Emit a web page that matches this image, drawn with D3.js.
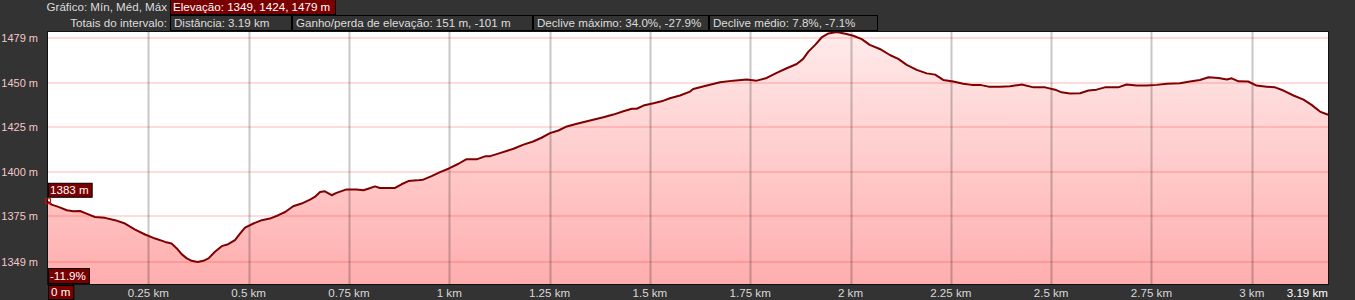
<!DOCTYPE html>
<html>
<head>
<meta charset="utf-8">
<script src="https://cdn.jsdelivr.net/npm/d3@7"></script>
<style>
  html, body { margin: 0; padding: 0; background: #333; }
  svg { display: block; font-family: "Liberation Sans", Arial, sans-serif; }
</style>
</head>
<body>
<div id="profile"></div>
<script>
// ---------------------------- DATA ----------------------------//
const distKm = [0, 0.009, 0.026, 0.047, 0.063, 0.080, 0.096, 0.117, 0.142, 0.167,
  0.192, 0.217, 0.242, 0.267, 0.292, 0.308, 0.321, 0.333, 0.346, 0.358,
  0.373, 0.387, 0.400, 0.416, 0.433, 0.449, 0.466, 0.479, 0.491, 0.512,
  0.533, 0.553, 0.574, 0.591, 0.611, 0.632, 0.653, 0.665, 0.678, 0.690,
  0.707, 0.719, 0.744, 0.769, 0.786, 0.798, 0.815, 0.827, 0.865, 0.881,
  0.898, 0.919, 0.935, 0.956, 0.977, 0.998, 1.023, 1.042, 1.068, 1.089,
  1.102, 1.126, 1.160, 1.185, 1.209, 1.230, 1.251, 1.272, 1.293, 1.318,
  1.351, 1.384, 1.409, 1.434, 1.455, 1.467, 1.484, 1.509, 1.529, 1.550,
  1.575, 1.600, 1.608, 1.642, 1.675, 1.708, 1.741, 1.766, 1.791, 1.816,
  1.841, 1.866, 1.882, 1.895, 1.912, 1.928, 1.945, 1.966, 1.990, 2.007,
  2.028, 2.048, 2.073, 2.098, 2.119, 2.140, 2.165, 2.190, 2.211, 2.231,
  2.256, 2.281, 2.302, 2.323, 2.344, 2.373, 2.398, 2.427, 2.456, 2.485,
  2.510, 2.526, 2.547, 2.572, 2.593, 2.613, 2.634, 2.667, 2.688, 2.713,
  2.738, 2.763, 2.788, 2.821, 2.846, 2.871, 2.892, 2.917, 2.938, 2.950,
  2.967, 2.991, 3.012, 3.037, 3.058, 3.079, 3.104, 3.129, 3.149, 3.170,
  3.190];
const elevM = [1383, 1381.4, 1380.1, 1378.2, 1377.6, 1377.8, 1376.3, 1374.4, 1373.9, 1372.6,
  1370.7, 1367.3, 1364.5, 1362.2, 1360.3, 1359.4, 1356.6, 1353.4, 1351.0, 1349.6,
  1349.0, 1349.6, 1351.0, 1354.7, 1357.9, 1359.0, 1361.3, 1365.1, 1368.4, 1370.7,
  1372.6, 1373.5, 1375.4, 1377.2, 1380.5, 1382.0, 1384.2, 1385.7, 1388.5, 1388.9,
  1386.7, 1388.0, 1390.0, 1390.0, 1389.5, 1390.4, 1391.7, 1390.8, 1390.8, 1392.9,
  1394.7, 1395.1, 1395.5, 1397.5, 1399.8, 1401.7, 1404.5, 1407.0, 1407.0, 1408.7,
  1408.8, 1410.5, 1413.0, 1415.3, 1417.1, 1419.2, 1421.8, 1423.3, 1425.6, 1427.1,
  1429.0, 1430.8, 1432.3, 1434.2, 1435.6, 1435.6, 1437.4, 1438.7, 1439.8, 1441.5,
  1443.1, 1445.3, 1446.8, 1448.7, 1450.6, 1451.5, 1452.1, 1451.5, 1453.0, 1455.9,
  1458.5, 1460.9, 1463.8, 1467.9, 1471.7, 1475.9, 1478.2, 1479.0, 1477.9, 1476.9,
  1475.0, 1471.7, 1469.4, 1466.0, 1463.8, 1460.4, 1457.6, 1455.6, 1454.9, 1451.9,
  1451.0, 1449.7, 1449.1, 1449.1, 1448.1, 1448.1, 1448.3, 1449.3, 1447.7, 1447.7,
  1446.4, 1444.9, 1444.2, 1444.4, 1445.9, 1446.4, 1447.7, 1447.7, 1449.3, 1448.7,
  1448.7, 1449.1, 1449.7, 1450.0, 1451.0, 1451.9, 1453.4, 1453.0, 1452.1, 1452.8,
  1451.1, 1451.0, 1448.7, 1448.1, 1447.7, 1445.9, 1443.1, 1440.8, 1437.8, 1434.0,
  1432.2];

const yTicks = [1349, 1375, 1400, 1425, 1450, 1479];
const xTicks = [0.25, 0.5, 0.75, 1, 1.25, 1.5, 1.75, 2, 2.25, 2.5, 2.75, 3];
const xTickLabels = ["0.25 km", "0.5 km", "0.75 km", "1 km", "1.25 km", "1.5 km",
  "1.75 km", "2 km", "2.25 km", "2.5 km", "2.75 km", "3 km"];
const totalKm = 3.19;

const headerTitle = "Gráfico: Mín, Méd, Máx";
const headerElev = "Elevação: 1349, 1424, 1479 m";
const totalsTitle = "Totais do intervalo:";
const totalsItems = ["Distância: 3.19 km", "Ganho/perda de elevação: 151 m, -101 m",
  "Declive máximo: 34.0%, -27.9%", "Declive médio: 7.8%, -7.1%"];
const startLabel = "1383 m";
const slopeLabel = "-11.9%";

const points = distKm.map((d, i) => ({ km: d, m: elevM[i] }));

// --------------------------- LAYOUT ---------------------------//
const width = 1355, height = 300;
const plot = { left: 48, right: 1328, top: 32, bottom: 284 };
const fontSize = "11.6px";
const totalsBoxW = [121, 240, 175, 168];

const svg = d3.select("#profile").append("svg")
  .attr("width", width)
  .attr("height", height);

svg.append("rect").attr("width", width).attr("height", height).attr("fill", "#333");

// ---------------------------- SCALES --------------------------//
const x = d3.scaleLinear().domain([0, totalKm]).range([plot.left, plot.right]);
const y = d3.scaleLinear().domain([1336.5, 1479]).range([plot.bottom, plot.top]);

// ---------------------------- PLOT ----------------------------//
svg.append("rect")
  .attr("x", plot.left).attr("y", plot.top)
  .attr("width", plot.right - plot.left).attr("height", plot.bottom - plot.top)
  .attr("fill", "#fff");

const defs = svg.append("defs");
const grad = defs.append("linearGradient")
  .attr("id", "fillGrad")
  .attr("gradientUnits", "userSpaceOnUse")
  .attr("x1", 0).attr("x2", 0)
  .attr("y1", plot.top).attr("y2", plot.bottom);
grad.append("stop").attr("offset", "0%").attr("stop-color", "#ff0000").attr("stop-opacity", 0.08);
grad.append("stop").attr("offset", "100%").attr("stop-color", "#ff0000").attr("stop-opacity", 0.32);

const area = d3.area()
  .x(d => x(d.km))
  .y0(plot.bottom)
  .y1(d => y(d.m));

svg.append("path")
  .datum(points)
  .attr("fill", "url(#fillGrad)")
  .attr("d", area);

// grid, drawn over the fill so it darkens with it
const tickY = v => Math.max(y(v), plot.top + 6);

svg.append("g").selectAll("line")
  .data(yTicks)
  .join("line")
  .attr("x1", plot.left).attr("x2", plot.right)
  .attr("y1", d => Math.round(tickY(d))).attr("y2", d => Math.round(tickY(d)))
  .attr("stroke", "rgba(255,0,0,0.14)")
  .attr("stroke-width", 2);

svg.append("g").selectAll("line")
  .data(xTicks)
  .join("line")
  .attr("x1", d => Math.round(x(d)) + 0.5).attr("x2", d => Math.round(x(d)) + 0.5)
  .attr("y1", plot.top).attr("y2", plot.bottom)
  .attr("stroke", "rgba(0,0,0,0.22)")
  .attr("stroke-width", 2);

const line = d3.line()
  .x(d => x(d.km))
  .y(d => y(d.m));

svg.append("path")
  .datum(points)
  .attr("fill", "none")
  .attr("stroke", "#800000")
  .attr("stroke-width", 2)
  .attr("stroke-linejoin", "round")
  .attr("d", line);

// border
svg.append("rect")
  .attr("x", plot.left - 0.5).attr("y", plot.top - 0.5)
  .attr("width", plot.right - plot.left + 1).attr("height", plot.bottom - plot.top + 1)
  .attr("fill", "none")
  .attr("stroke", "#111");

// ---------------------------- AXES ----------------------------//
svg.append("g").selectAll("text")
  .data(yTicks)
  .join("text")
  .attr("x", 38)
  .attr("y", d => tickY(d) + 4)
  .attr("text-anchor", "end")
  .attr("fill", "#f2c8c8")
  .style("font-size", "11px")
  .text(d => d + " m");

svg.append("g").selectAll("text")
  .data(xTicks)
  .join("text")
  .attr("x", d => x(d))
  .attr("y", 297)
  .attr("text-anchor", "middle")
  .attr("fill", "#d8d8d8")
  .style("font-size", fontSize)
  .text((d, i) => xTickLabels[i]);

svg.append("text")
  .attr("x", x(totalKm))
  .attr("y", 297)
  .attr("text-anchor", "end")
  .attr("fill", "#fff")
  .style("font-size", fontSize)
  .text(totalKm + " km");

// labelled box helper
function labelBox(g, x0, y0, h, txt, fill, padL, padR, fixedW) {
  const t = g.append("text")
    .attr("x", x0 + padL)
    .attr("y", y0 + h / 2 + 4)
    .attr("fill", "#fff")
    .style("font-size", fontSize)
    .text(txt);
  const w = fixedW || (t.node().getComputedTextLength() + padL + padR);
  g.insert("rect", "text")
    .attr("x", x0 + 0.5).attr("y", y0 + 0.5)
    .attr("width", w).attr("height", h)
    .attr("fill", fill)
    .attr("stroke", "#000");
  return w;
}

// "0 m" start label
labelBox(svg.append("g"), x(0), 285, 14, "0 m", "#7a0000", 3, 3);

// start marker and labels
svg.append("rect")
  .attr("x", x(points[0].km) - 2.5).attr("y", y(points[0].m) - 3)
  .attr("width", 5).attr("height", 5)
  .attr("fill", "none")
  .attr("stroke", "#e00000");
labelBox(svg.append("g"), x(0), y(points[0].m) - 19, 14, startLabel, "#7a0000", 2, 3);
labelBox(svg.append("g"), x(0), plot.bottom - 16, 15, slopeLabel, "#7a0000", 2, 3);

// ---------------------------- HEADER --------------------------//
svg.append("text")
  .attr("x", 167).attr("y", 11)
  .attr("text-anchor", "end")
  .attr("fill", "#ddd")
  .style("font-size", fontSize)
  .text(headerTitle);
labelBox(svg.append("g"), 170, -1, 15, headerElev, "#7a0000", 3, 4, 165);

svg.append("text")
  .attr("x", 167).attr("y", 27)
  .attr("text-anchor", "end")
  .attr("fill", "#ddd")
  .style("font-size", fontSize)
  .text(totalsTitle);

let bx = 170;
const totalsG = svg.append("g");
totalsItems.forEach((s, i) => {
  const g = totalsG.append("g");
  const w = labelBox(g, bx, 15, 15, s, "#333", 4, 8, totalsBoxW[i]);
  g.select("text").attr("fill", "#ddd");
  bx += w + 1;
});
</script>
</body>
</html>
